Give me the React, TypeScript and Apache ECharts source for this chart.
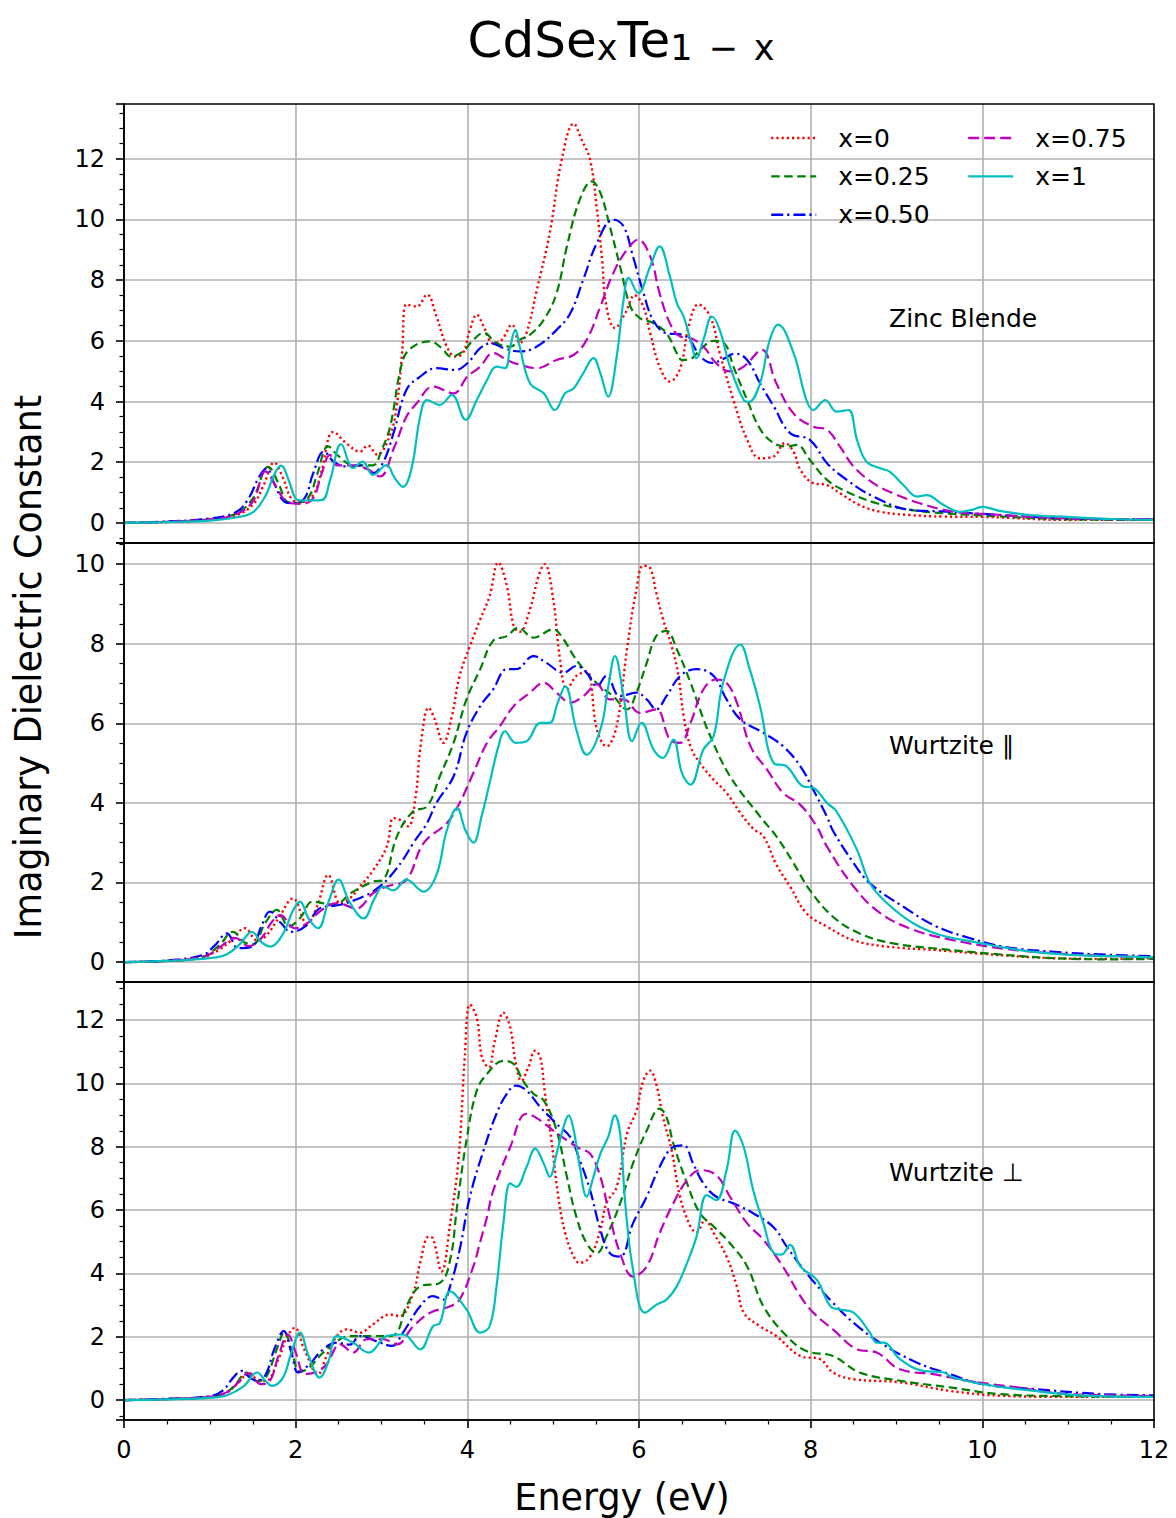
import React, { useEffect, useRef } from "react";
import * as echarts from "echarts";

// ---------------- DATA ----------------
const seriesNames = ["x=0", "x=0.25", "x=0.50", "x=0.75", "x=1"];
const panelLabels = ["Zinc Blende", "Wurtzite ∥", "Wurtzite ⊥"];
const xTitle = "Energy (eV)";
const yTitle = "Imaginary Dielectric Constant";

// Zinc Blende
const zb_x0 = [[0,0],[0.5,0.03],[1.0,0.1],[1.3,0.25],[1.5,0.6],[1.62,1.2],[1.75,1.99],[1.85,1.5],[1.95,0.8],[2.05,0.68],[2.2,0.9],[2.3,1.7],[2.44,3.0],[2.6,2.6],[2.75,2.35],[2.84,2.55],[2.95,2.25],[3.1,2.9],[3.18,3.9],[3.24,5.6],[3.29,7.2],[3.41,7.13],[3.53,7.52],[3.64,6.8],[3.76,5.81],[3.86,5.48],[3.95,5.6],[4.03,6.36],[4.11,6.86],[4.19,6.47],[4.3,5.92],[4.4,6.03],[4.52,6.53],[4.61,5.92],[4.69,6.26],[4.81,7.68],[4.96,9.55],[5.1,11.97],[5.24,13.15],[5.33,12.63],[5.43,11.97],[5.51,10.32],[5.57,8.67],[5.62,7.13],[5.72,6.42],[5.84,6.91],[5.95,7.5],[6.05,7.13],[6.13,6.26],[6.24,5.15],[6.36,4.66],[6.48,5.1],[6.58,6.5],[6.69,7.2],[6.83,6.8],[6.94,5.6],[7.1,4.05],[7.26,2.74],[7.41,2.13],[7.57,2.19],[7.7,2.63],[7.8,2.35],[7.88,1.75],[8.03,1.31],[8.19,1.25],[8.34,0.98],[8.57,0.59],[8.81,0.37],[9.16,0.26],[9.54,0.21],[10,0.2],[11,0.1],[12,0.12]];
const zb_x25 = [[0,0],[0.5,0.04],[1.0,0.12],[1.3,0.3],[1.5,0.8],[1.68,1.85],[1.8,1.3],[1.9,0.7],[2.0,0.65],[2.15,0.85],[2.25,1.6],[2.38,2.52],[2.5,2.2],[2.67,1.9],[2.9,1.9],[3.0,2.4],[3.1,3.17],[3.25,5.37],[3.37,5.81],[3.57,5.98],[3.7,5.76],[3.81,5.48],[3.95,5.65],[4.07,6.03],[4.19,6.26],[4.34,5.92],[4.5,5.81],[4.61,6.03],[4.73,6.2],[4.89,6.69],[5.04,7.57],[5.16,9.11],[5.31,10.65],[5.45,11.25],[5.55,10.87],[5.66,9.77],[5.78,8.45],[5.9,7.13],[6.01,6.75],[6.17,6.58],[6.32,6.25],[6.44,5.6],[6.5,5.37],[6.6,5.4],[6.71,5.7],[6.87,6.0],[7.0,5.9],[7.1,5.15],[7.26,4.05],[7.41,3.1],[7.57,2.63],[7.72,2.52],[7.84,2.57],[7.99,2.08],[8.19,1.42],[8.42,1.03],[8.77,0.65],[9.16,0.43],[9.54,0.32],[10,0.25],[11,0.12],[12,0.1]];
const zb_x50 = [[0,0],[0.5,0.05],[1.0,0.15],[1.3,0.35],[1.45,0.8],[1.57,1.5],[1.66,1.8],[1.75,1.3],[1.85,0.75],[1.95,0.65],[2.1,0.8],[2.2,1.6],[2.33,2.35],[2.45,2.0],[2.6,1.86],[2.75,1.9],[2.9,1.64],[3.02,2.0],[3.14,2.96],[3.29,4.38],[3.45,4.82],[3.64,5.1],[3.86,5.04],[4.0,5.26],[4.15,5.76],[4.28,5.92],[4.42,5.76],[4.61,5.65],[4.81,5.81],[5.04,6.36],[5.2,6.91],[5.35,8.01],[5.51,9.22],[5.7,9.99],[5.82,9.77],[5.93,8.78],[6.05,7.6],[6.17,6.65],[6.32,6.25],[6.5,6.2],[6.6,6.0],[6.71,5.5],[6.85,5.27],[6.98,5.4],[7.12,5.58],[7.26,5.37],[7.41,4.6],[7.57,3.84],[7.76,2.96],[7.99,2.74],[8.19,1.97],[8.42,1.42],[8.73,0.87],[9.16,0.43],[9.54,0.38],[10,0.3],[11,0.15],[12,0.12]];
const zb_x75 = [[0,0],[0.5,0.04],[1.0,0.12],[1.3,0.28],[1.5,0.7],[1.65,1.7],[1.75,1.3],[1.9,0.7],[2.05,0.63],[2.2,0.8],[2.3,1.6],[2.4,2.24],[2.48,1.9],[2.67,1.9],[2.85,1.75],[2.98,1.53],[3.15,2.5],[3.29,3.5],[3.41,3.94],[3.6,4.49],[3.84,4.27],[4.0,4.82],[4.15,5.15],[4.3,5.6],[4.46,5.37],[4.61,5.21],[4.81,5.1],[5.04,5.37],[5.24,5.54],[5.39,6.03],[5.55,7.13],[5.7,8.23],[5.86,9.0],[5.99,9.33],[6.13,8.78],[6.24,7.57],[6.36,6.58],[6.48,6.14],[6.6,6.09],[6.75,5.81],[6.9,5.26],[7.06,4.99],[7.22,5.15],[7.43,5.7],[7.6,4.6],[7.8,3.61],[8.03,3.17],[8.19,3.07],[8.34,2.52],[8.5,1.86],[8.73,1.31],[8.96,0.98],[9.27,0.65],[9.66,0.37],[10,0.3],[11,0.15],[12,0.12]];
const zb_x100 = [[0,0],[0.5,0.03],[1.0,0.08],[1.3,0.18],[1.5,0.35],[1.65,0.9],[1.75,1.6],[1.83,1.89],[1.92,1.4],[2.0,0.8],[2.07,0.74],[2.3,0.75],[2.4,1.4],[2.53,2.6],[2.67,1.81],[2.78,2.02],[2.9,1.58],[3.06,1.91],[3.15,1.5],[3.25,1.19],[3.35,1.8],[3.45,3.5],[3.53,4.05],[3.68,3.89],[3.82,4.22],[3.98,3.4],[4.11,4.05],[4.23,4.71],[4.34,5.15],[4.44,5.1],[4.5,5.81],[4.56,6.36],[4.61,5.81],[4.73,4.6],[4.89,4.27],[5.02,3.72],[5.14,4.27],[5.24,4.44],[5.35,4.93],[5.47,5.43],[5.55,4.93],[5.64,4.16],[5.74,5.48],[5.82,7.35],[5.88,8.07],[5.99,7.57],[6.13,8.45],[6.24,9.11],[6.36,8.12],[6.44,7.24],[6.52,6.8],[6.6,6.03],[6.67,5.43],[6.75,6.03],[6.85,6.8],[6.94,6.36],[7.06,5.15],[7.22,4.05],[7.28,3.99],[7.41,4.6],[7.52,6.0],[7.62,6.53],[7.8,5.6],[7.95,4.05],[8.03,3.72],[8.17,4.05],[8.3,3.67],[8.44,3.72],[8.54,2.74],[8.65,2.02],[8.81,1.8],[8.92,1.69],[9.08,1.25],[9.24,0.87],[9.35,0.92],[9.55,0.59],[9.74,0.37],[9.9,0.45],[10.0,0.53],[10.2,0.4],[10.6,0.25],[11,0.2],[11.5,0.13],[12,0.1]];

// Wurtzite parallel
const wp_x0 = [[0,0],[0.5,0.03],[0.9,0.12],[1.1,0.3],[1.25,0.55],[1.41,0.85],[1.55,0.55],[1.65,0.65],[1.8,1.1],[1.97,1.6],[2.13,0.97],[2.25,1.4],[2.38,2.19],[2.52,1.48],[2.63,1.6],[2.75,1.9],[2.9,2.3],[3.06,2.9],[3.14,3.62],[3.21,3.58],[3.31,3.41],[3.4,4.2],[3.45,5.34],[3.55,6.39],[3.62,6.1],[3.72,5.51],[3.82,6.18],[3.91,7.19],[4.03,7.94],[4.15,8.61],[4.26,9.2],[4.36,10.04],[4.46,9.45],[4.54,8.45],[4.61,8.3],[4.73,8.87],[4.83,9.7],[4.9,10.0],[5.0,9.12],[5.08,7.6],[5.16,6.85],[5.27,7.19],[5.39,7.3],[5.51,5.84],[5.62,5.42],[5.74,5.93],[5.86,7.86],[5.97,9.37],[6.05,9.96],[6.13,9.9],[6.2,9.29],[6.28,8.61],[6.38,7.94],[6.46,7.19],[6.52,6.18],[6.6,5.42],[6.71,5.0],[6.87,4.58],[7.02,4.25],[7.18,3.75],[7.33,3.35],[7.45,3.16],[7.6,2.45],[7.76,1.9],[7.95,1.23],[8.19,0.89],[8.5,0.55],[8.89,0.39],[9.47,0.3],[10.05,0.2],[10.8,0.1],[11.5,0.08],[12,0.1]];
const wp_x25 = [[0,0],[0.5,0.03],[0.9,0.12],[1.1,0.4],[1.27,0.76],[1.4,0.5],[1.5,0.45],[1.65,1.0],[1.78,1.31],[1.92,0.9],[2.05,1.1],[2.2,1.52],[2.44,1.44],[2.67,1.77],[2.9,2.02],[3.02,2.07],[3.18,3.16],[3.37,3.79],[3.53,3.91],[3.68,4.67],[3.84,5.51],[3.99,6.6],[4.15,7.36],[4.3,8.07],[4.46,8.19],[4.59,8.4],[4.77,8.15],[5.0,8.36],[5.12,8.11],[5.24,7.69],[5.39,7.27],[5.55,6.93],[5.7,6.68],[5.86,6.35],[5.97,6.77],[6.09,7.52],[6.2,8.19],[6.32,8.32],[6.44,7.86],[6.6,7.02],[6.71,6.35],[6.83,5.68],[7.06,4.67],[7.41,3.66],[7.6,3.16],[7.8,2.49],[7.99,1.81],[8.26,1.14],[8.57,0.72],[8.96,0.47],[9.47,0.34],[10.05,0.22],[10.82,0.1],[11.5,0.07],[12,0.08]];
const wp_x50 = [[0,0],[0.5,0.04],[0.92,0.18],[1.05,0.4],[1.2,0.72],[1.33,0.35],[1.49,0.39],[1.6,0.9],[1.7,1.27],[1.82,1.0],[1.95,0.76],[2.13,0.93],[2.28,1.35],[2.52,1.44],[2.83,1.69],[2.98,1.9],[3.1,2.15],[3.25,2.57],[3.37,2.99],[3.53,3.49],[3.64,4.0],[3.84,4.67],[3.99,5.76],[4.15,6.43],[4.3,6.85],[4.46,7.36],[4.57,7.36],[4.77,7.69],[4.92,7.52],[5.12,7.27],[5.27,7.44],[5.39,7.27],[5.51,6.93],[5.62,7.19],[5.78,6.68],[5.97,6.77],[6.09,6.6],[6.2,6.35],[6.32,6.68],[6.48,7.19],[6.67,7.36],[6.87,7.19],[7.02,6.6],[7.18,6.1],[7.45,5.76],[7.68,5.42],[7.88,4.92],[8.03,4.33],[8.19,3.65],[8.26,3.3],[8.5,2.49],[8.69,1.98],[9.08,1.39],[9.47,0.89],[9.86,0.6],[10.24,0.39],[10.83,0.26],[11.5,0.18],[12,0.15]];
const wp_x75 = [[0,0],[0.5,0.03],[0.95,0.15],[1.1,0.35],[1.3,0.6],[1.45,0.4],[1.6,0.6],[1.72,1.0],[1.82,1.18],[1.99,0.85],[2.15,1.0],[2.28,1.27],[2.48,1.48],[2.71,1.35],[2.9,1.73],[3.06,1.9],[3.29,2.07],[3.49,2.99],[3.76,3.49],[3.91,4.0],[4.07,4.75],[4.23,5.51],[4.38,5.93],[4.54,6.43],[4.73,6.77],[4.89,7.02],[5.04,6.77],[5.2,6.52],[5.35,6.68],[5.51,6.98],[5.66,6.6],[5.82,6.6],[6.01,6.26],[6.2,6.35],[6.36,5.59],[6.48,5.51],[6.6,6.01],[6.75,6.85],[6.9,7.1],[7.02,7.02],[7.14,6.52],[7.3,5.42],[7.49,4.84],[7.68,4.25],[7.88,3.95],[8.07,3.41],[8.19,2.9],[8.5,1.9],[8.81,1.23],[9.2,0.81],[9.66,0.55],[10.24,0.34],[10.83,0.22],[11.5,0.15],[12,0.12]];
const wp_x100 = [[0,0],[0.5,0.03],[1.0,0.1],[1.2,0.2],[1.35,0.45],[1.49,0.76],[1.6,0.5],[1.7,0.39],[1.85,0.7],[1.97,1.3],[2.05,1.52],[2.15,1.1],[2.26,0.85],[2.38,1.5],[2.5,2.07],[2.63,1.5],[2.79,1.1],[2.92,1.6],[3.02,1.9],[3.14,1.8],[3.29,2.07],[3.49,1.77],[3.64,2.19],[3.76,3.3],[3.88,3.87],[3.98,3.3],[4.07,3.0],[4.17,3.7],[4.26,4.5],[4.36,5.4],[4.44,5.8],[4.56,5.51],[4.69,5.55],[4.85,6.01],[4.96,6.01],[5.05,6.5],[5.14,6.93],[5.27,5.84],[5.39,5.21],[5.55,5.84],[5.64,6.9],[5.72,7.69],[5.82,6.68],[5.92,5.55],[6.03,6.01],[6.17,5.34],[6.28,5.13],[6.4,5.59],[6.5,4.75],[6.6,4.46],[6.75,5.34],[6.87,5.68],[6.98,7.02],[7.18,7.98],[7.29,7.36],[7.41,6.43],[7.57,5.0],[7.72,4.92],[7.91,4.42],[8.03,4.38],[8.19,4.0],[8.3,3.79],[8.54,2.82],[8.69,1.98],[8.89,1.48],[9.2,0.97],[9.51,0.68],[9.9,0.51],[10.44,0.3],[11.02,0.18],[11.5,0.15],[12,0.12]];

// Wurtzite perpendicular
const wn_x0 = [[0,0],[0.5,0.03],[1.0,0.1],[1.2,0.25],[1.35,0.6],[1.45,0.87],[1.55,0.65],[1.65,0.6],[1.8,1.3],[1.9,2.0],[1.99,2.28],[2.1,1.6],[2.26,0.82],[2.36,1.39],[2.45,1.9],[2.59,2.23],[2.75,2.13],[2.9,2.39],[3.1,2.7],[3.21,2.65],[3.37,3.38],[3.45,4.33],[3.55,5.16],[3.6,5.1],[3.7,4.06],[3.8,5.58],[3.9,7.68],[3.97,10.82],[4.03,12.49],[4.11,12.07],[4.17,10.82],[4.25,10.5],[4.32,11.34],[4.42,12.23],[4.5,11.76],[4.56,10.71],[4.63,10.08],[4.71,10.5],[4.79,11.03],[4.85,10.82],[4.9,9.77],[4.98,8.2],[5.06,6.42],[5.14,5.27],[5.24,4.53],[5.31,4.33],[5.43,4.53],[5.55,5.37],[5.62,6.21],[5.74,6.73],[5.86,8.41],[5.97,9.14],[6.05,10.08],[6.13,10.4],[6.2,9.98],[6.28,8.93],[6.38,7.89],[6.48,6.4],[6.6,5.48],[6.67,5.3],[6.77,5.69],[6.87,5.27],[7.02,4.53],[7.14,3.59],[7.22,2.76],[7.41,2.33],[7.6,2.02],[7.88,1.39],[8.11,1.29],[8.26,0.87],[8.5,0.66],[9.04,0.56],[9.62,0.29],[10.2,0.14],[11.0,0.1],[12,0.1]];
const wn_x25 = [[0,0],[0.5,0.03],[1.0,0.1],[1.2,0.25],[1.3,0.5],[1.43,0.87],[1.55,0.6],[1.65,0.7],[1.78,1.6],[1.87,2.15],[1.95,1.6],[2.05,0.9],[2.15,1.0],[2.28,1.39],[2.48,1.86],[2.63,2.02],[2.84,2.02],[3.06,2.02],[3.18,2.13],[3.29,2.96],[3.45,3.59],[3.68,3.7],[3.8,4.43],[3.88,6.1],[3.99,8.2],[4.11,9.77],[4.23,10.3],[4.42,10.71],[4.54,10.61],[4.65,10.08],[4.77,9.67],[4.89,9.46],[5.04,8.51],[5.16,7.05],[5.27,5.79],[5.39,4.95],[5.51,4.64],[5.62,5.16],[5.78,6.21],[5.93,7.47],[6.09,8.51],[6.24,9.2],[6.32,8.93],[6.4,8.1],[6.56,6.84],[6.71,5.9],[6.87,5.48],[7.06,4.95],[7.26,4.22],[7.45,2.96],[7.72,2.02],[7.95,1.55],[8.26,1.39],[8.57,0.87],[9.04,0.61],[9.62,0.4],[10.2,0.19],[11,0.12],[12,0.1]];
const wn_x50 = [[0,0],[0.5,0.04],[1.0,0.12],[1.15,0.3],[1.27,0.7],[1.37,0.92],[1.47,0.7],[1.55,0.61],[1.65,0.8],[1.75,1.6],[1.86,2.18],[1.95,1.5],[2.03,0.87],[2.15,1.1],[2.32,1.6],[2.48,1.81],[2.63,1.75],[2.75,2.02],[2.94,1.86],[3.12,1.71],[3.25,2.13],[3.45,2.96],[3.6,3.28],[3.72,3.17],[3.8,3.6],[3.91,4.74],[4.03,6.42],[4.19,7.89],[4.34,9.04],[4.46,9.67],[4.57,9.93],[4.69,9.77],[4.85,9.25],[5.04,8.72],[5.2,8.3],[5.31,7.57],[5.43,6.63],[5.55,5.37],[5.66,4.64],[5.78,4.53],[5.93,5.58],[6.09,6.42],[6.24,7.36],[6.4,7.99],[6.52,8.04],[6.63,7.47],[6.75,6.84],[6.9,6.42],[7.1,6.21],[7.33,5.9],[7.57,5.45],[7.72,4.85],[7.95,4.01],[8.26,3.07],[8.5,2.44],[8.81,1.81],[9.24,1.18],[9.62,0.82],[10.01,0.5],[10.6,0.35],[11.37,0.19],[12,0.15]];
const wn_x75 = [[0,0],[0.5,0.03],[1.0,0.1],[1.2,0.25],[1.33,0.55],[1.45,0.85],[1.6,0.5],[1.7,0.6],[1.8,1.4],[1.91,2.07],[2.0,1.5],[2.11,0.82],[2.25,0.9],[2.36,1.13],[2.52,1.76],[2.67,1.5],[2.83,1.92],[3.02,1.92],[3.18,1.76],[3.37,2.33],[3.57,2.76],[3.8,2.96],[3.91,3.17],[4.07,4.22],[4.15,5.0],[4.23,5.79],[4.3,6.6],[4.5,7.99],[4.69,9.04],[4.85,8.83],[5.0,8.51],[5.16,8.2],[5.31,7.94],[5.43,7.78],[5.55,7.05],[5.66,5.79],[5.78,4.64],[5.93,3.9],[6.09,4.22],[6.24,5.27],[6.4,6.21],[6.56,6.94],[6.71,7.26],[6.9,7.1],[7.06,6.42],[7.26,5.58],[7.45,5.06],[7.68,4.2],[7.88,3.28],[8.03,2.76],[8.26,2.23],[8.54,1.6],[8.77,1.5],[9.04,0.97],[9.43,0.82],[9.82,0.61],[10.4,0.4],[10.98,0.19],[11.5,0.15],[12,0.12]];
const wn_x100 = [[0,0],[0.5,0.02],[1.0,0.07],[1.2,0.15],[1.4,0.45],[1.55,0.87],[1.65,0.6],[1.72,0.45],[1.85,0.7],[1.95,1.5],[2.05,2.13],[2.15,1.4],[2.28,0.71],[2.38,1.2],[2.48,2.02],[2.67,1.81],[2.85,1.5],[3.06,2.02],[3.22,2.07],[3.3,2.02],[3.45,1.6],[3.6,2.33],[3.68,2.43],[3.8,3.43],[3.99,2.86],[4.15,2.13],[4.26,2.33],[4.34,3.59],[4.42,5.58],[4.5,6.84],[4.57,6.73],[4.69,7.36],[4.79,7.94],[4.89,7.47],[4.96,7.05],[5.04,7.78],[5.12,8.62],[5.18,8.99],[5.24,8.51],[5.31,7.36],[5.39,6.42],[5.47,7.05],[5.55,7.78],[5.64,8.3],[5.72,8.99],[5.78,8.41],[5.84,6.21],[5.93,4.12],[6.07,2.76],[6.21,3.02],[6.32,3.17],[6.44,3.59],[6.56,4.33],[6.67,5.16],[6.79,6.47],[6.9,6.31],[7.02,7.26],[7.12,8.51],[7.22,7.99],[7.33,6.63],[7.45,5.58],[7.57,4.64],[7.66,4.59],[7.76,4.9],[7.88,4.22],[8.07,3.8],[8.23,2.96],[8.34,2.86],[8.5,2.76],[8.69,2.13],[8.77,1.81],[8.85,1.81],[9.04,1.29],[9.31,0.92],[9.55,0.87],[9.66,0.71],[10.01,0.5],[10.6,0.29],[11.2,0.14],[12,0.1]];

const panelData = [
  [zb_x0, zb_x25, zb_x50, zb_x75, zb_x100],
  [wp_x0, wp_x25, wp_x50, wp_x75, wp_x100],
  [wn_x0, wn_x25, wn_x50, wn_x75, wn_x100],
];
const yRanges = [[-0.66, 13.8], [-0.5, 10.53], [-0.63, 13.2]];
const xRange = [0, 12];

// ---------------- STYLE ----------------
const colors = ["#ff0000", "#008000", "#0000ff", "#bf00bf", "#00bfbf"];
const widths = [2.4, 2.2, 2.2, 2.2, 2.2];
const dashes: any[] = [[2.2, 3.0], [8.5, 4.5], [12, 4, 2.2, 4], [11, 5], "solid"];
const FONT = "DejaVu Sans";
const grids = [
  { left: 124, top: 104, width: 1030, height: 439 },
  { left: 124, top: 543, width: 1030, height: 439 },
  { left: 124, top: 982, width: 1030, height: 438 },
];

export default function App() {
  const ref = useRef<HTMLDivElement>(null);
  useEffect(() => {
    if (!ref.current) return;
    const chart = echarts.init(ref.current, null, { renderer: "svg" });
    const gridLine = { show: true, showMinLine: false, showMaxLine: false, lineStyle: { color: "#b0b0b0", width: 1.6 } };
    const xAxes = grids.map((g, i) => ({
      type: "value",
      gridIndex: i,
      min: xRange[0],
      max: xRange[1],
      interval: 2,
      axisLine: { show: true, onZero: false, lineStyle: { color: "#000", width: 1.6 } },
      axisTick: { show: i === 2, length: 8, lineStyle: { color: "#000", width: 1.6 } },
      minorTick: { show: i === 2, splitNumber: 4, length: 4.5, lineStyle: { color: "#000", width: 1.2 } },
      axisLabel: { show: i === 2, fontSize: 24, color: "#000", fontFamily: FONT, margin: 18 },
      splitLine: gridLine,
    }));
    const yAxes = grids.map((g, i) => ({
      type: "value",
      gridIndex: i,
      min: yRanges[i][0],
      max: yRanges[i][1],
      splitNumber: 7,
      minInterval: 2,
      maxInterval: 2,
      axisLine: { show: true, onZero: false, lineStyle: { color: "#000", width: 1.6 } },
      axisTick: { show: true, length: 8, lineStyle: { color: "#000", width: 1.6 } },
      minorTick: { show: true, splitNumber: 4, length: 4.5, lineStyle: { color: "#000", width: 1.2 } },
      axisLabel: { showMinLabel: false, showMaxLabel: false, fontSize: 24, color: "#000", fontFamily: FONT, margin: 19 },
      splitLine: gridLine,
    }));
    const series: any[] = [];
    panelData.forEach((arrs, p) => {
      arrs.forEach((d, k) => {
        series.push({
          type: "line",
          name: seriesNames[k],
          xAxisIndex: p,
          yAxisIndex: p,
          data: d,
          smooth: 0.4,
          symbol: "none",
          lineStyle: { color: colors[k], width: widths[k], type: dashes[k], cap: "butt" },
          itemStyle: { color: colors[k] },
          z: 2 + k,
        });
      });
    });
    const legendCommon = {
      orient: "vertical",
      padding: 0,
      itemWidth: 45,
      itemHeight: 14,
      itemGap: 8.4,
      itemStyle: { opacity: 0 },
      lineStyle: { width: 2.4 },
      textStyle: { fontSize: 25, color: "#000", fontFamily: FONT, lineHeight: 30, padding: [0, 0, 0, 17] },
      selectedMode: false,
    };
    const graphics: any[] = grids.map((g) => ({
      type: "rect",
      shape: { x: g.left, y: g.top, width: g.width, height: g.height },
      style: { fill: "none", stroke: "#000", lineWidth: 1.6 },
      z: 100,
      silent: true,
    }));
    const labelY = [318, 745, 1172];
    panelLabels.forEach((t, i) => {
      graphics.push({
        type: "text",
        x: 889,
        y: labelY[i],
        style: { text: t, fontSize: 25, fontFamily: FONT, fill: "#000", textAlign: "left", textVerticalAlign: "middle", align: "left", verticalAlign: "middle" },
        z: 50,
      });
    });
    graphics.push({
      type: "text",
      x: 622,
      y: 1497,
      style: { text: xTitle, fontSize: 36.5, fontFamily: FONT, fill: "#000", textAlign: "center", textVerticalAlign: "middle", align: "center", verticalAlign: "middle" },
    });
    graphics.push({
      type: "text",
      x: 28,
      y: 667,
      rotation: Math.PI / 2,
      style: { text: yTitle, fontSize: 36.5, fontFamily: FONT, fill: "#000", textAlign: "center", textVerticalAlign: "middle", align: "center", verticalAlign: "middle" },
    });
    graphics.push({
      type: "text",
      x: 621,
      y: 31,
      style: {
        text: "{m|CdSe}{s|x}{m|Te}{s|1}{op|−}{s|x}",
        fontFamily: FONT,
        fill: "#000",
        textAlign: "center",
        textVerticalAlign: "middle",
        align: "center",
        verticalAlign: "middle",
        rich: {
          m: { fontSize: 50, lineHeight: 68, verticalAlign: "bottom", fontFamily: FONT },
          s: { fontSize: 35, lineHeight: 35, verticalAlign: "bottom", fontFamily: FONT },
          op: { fontSize: 35, lineHeight: 35, verticalAlign: "bottom", fontFamily: FONT, padding: [0, 16, 0, 16] },
        },
      },
    });
    chart.setOption({
      animation: false,
      backgroundColor: "#fff",
      textStyle: { fontFamily: FONT },
      grid: grids.map((g) => ({ ...g, containLabel: false })),
      xAxis: xAxes,
      yAxis: yAxes,
      legend: [
        { ...legendCommon, left: 770, top: 123, data: seriesNames.slice(0, 3) },
        { ...legendCommon, left: 967, top: 123, data: seriesNames.slice(3, 5) },
      ],
      graphic: graphics,
      series,
    });
    return () => chart.dispose();
  }, []);
  return <div ref={ref} style={{ position: "absolute", left: 0, top: 0, width: 1176, height: 1518 }} />;
}
